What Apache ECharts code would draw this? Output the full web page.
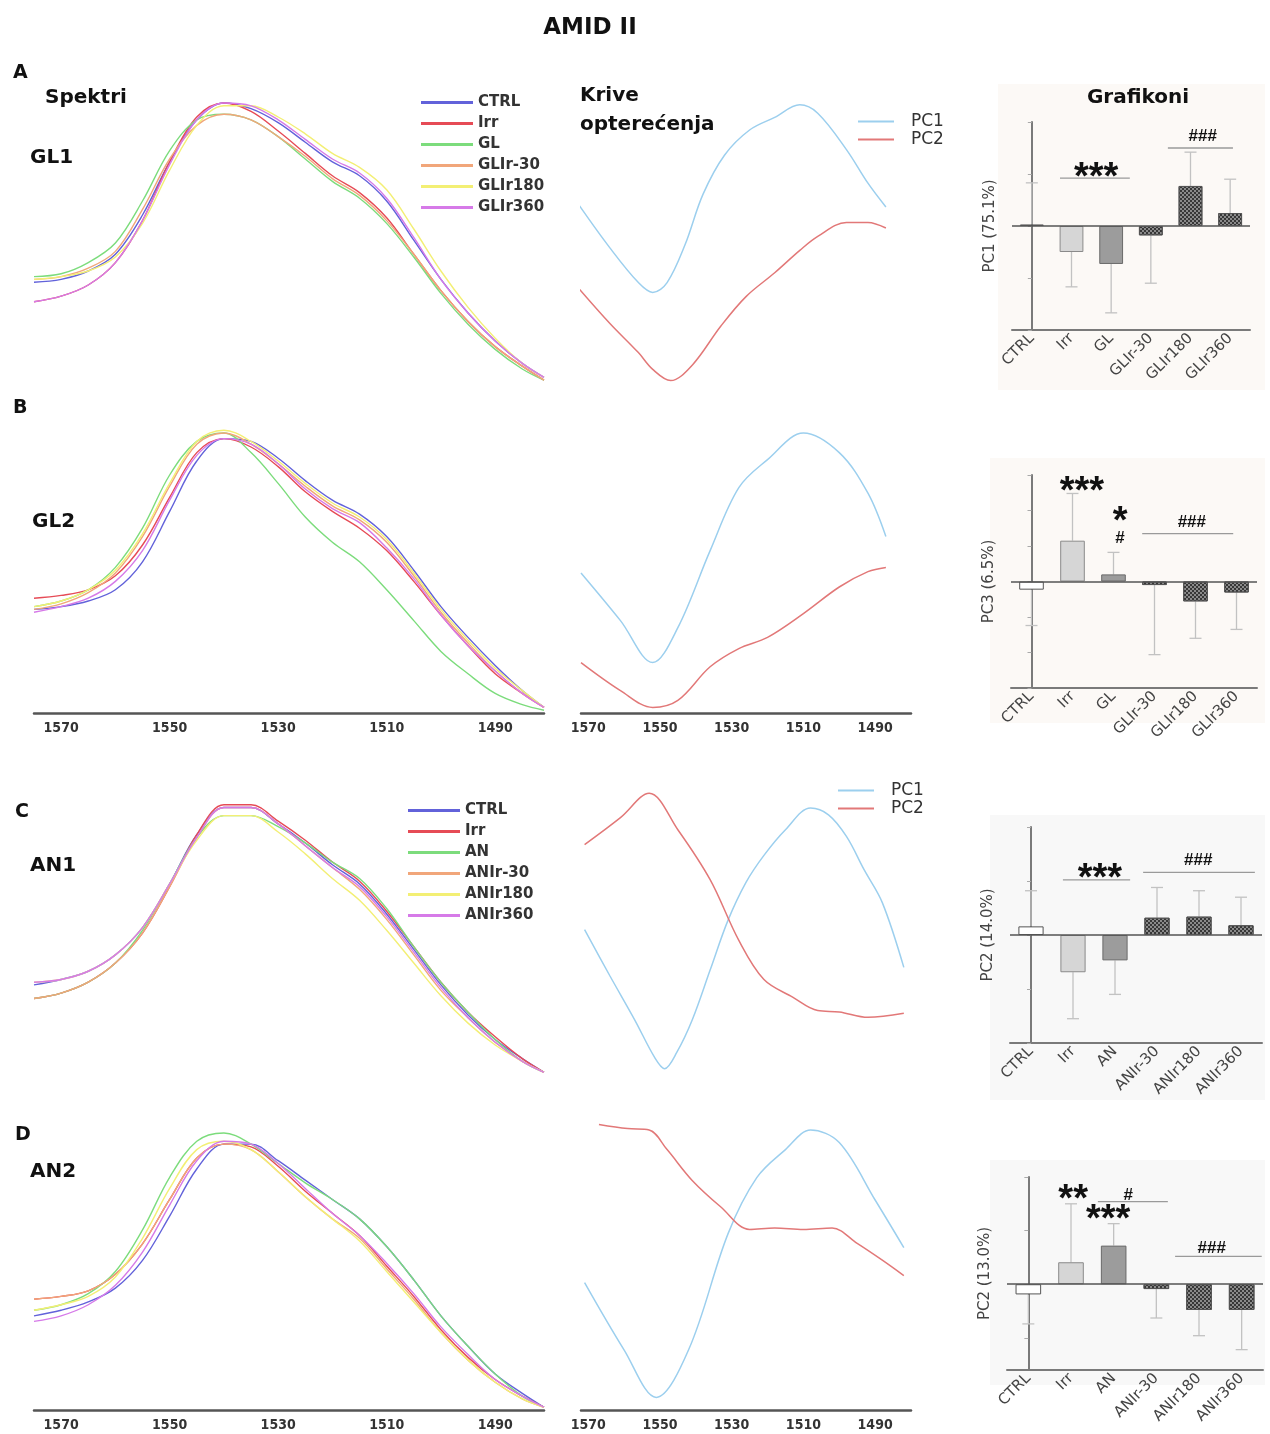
<!DOCTYPE html>
<html><head><meta charset="utf-8">
<script src="https://cdn.jsdelivr.net/npm/echarts@6/dist/echarts.min.js"></script>
<style>html,body{margin:0;padding:0;background:#fff}#c{width:1270px;height:1434px}</style>
</head><body><div id="c"></div>
<script>
// ---------------- DATA ----------------
const specX = [1575,1570,1565,1560,1555,1550,1545,1540,1535,1530,1525,1520,1515,1510,1505,1500,1495,1490,1485,1481];
const namesGL = ['CTRL','Irr','GL','GLIr-30','GLIr180','GLIr360'];
const namesAN = ['CTRL','Irr','AN','ANIr-30','ANIr180','ANIr360'];
const specTicks = [1570,1550,1530,1510,1490];

// Row A (GL1)
const spA_CTRL    = [0.36,0.37,0.40,0.46,0.60,0.79,0.94,1.00,0.98,0.93,0.86,0.79,0.74,0.65,0.51,0.37,0.25,0.15,0.07,0.02];
const spA_Irr     = [0.29,0.31,0.35,0.43,0.58,0.79,0.95,1.00,0.97,0.90,0.82,0.74,0.68,0.59,0.46,0.33,0.22,0.13,0.06,0.01];
const spA_GL      = [0.38,0.39,0.43,0.50,0.65,0.83,0.94,0.96,0.94,0.88,0.80,0.72,0.66,0.57,0.45,0.32,0.21,0.12,0.05,0.01];
const spA_GLIr30  = [0.37,0.38,0.41,0.47,0.62,0.80,0.92,0.96,0.94,0.88,0.81,0.73,0.67,0.58,0.46,0.33,0.22,0.13,0.06,0.01];
const spA_GLIr180 = [0.37,0.38,0.40,0.45,0.57,0.76,0.92,0.99,0.99,0.95,0.89,0.82,0.77,0.69,0.55,0.40,0.27,0.16,0.07,0.02];
const spA_GLIr360 = [0.29,0.31,0.35,0.43,0.58,0.78,0.94,1.00,0.99,0.94,0.87,0.80,0.75,0.66,0.52,0.37,0.25,0.15,0.07,0.02];
// Row B (GL2)
const spB_CTRL    = [0.37,0.38,0.40,0.44,0.54,0.72,0.90,0.98,0.97,0.91,0.83,0.76,0.71,0.63,0.51,0.38,0.27,0.17,0.08,0.02];
const spB_Irr     = [0.41,0.42,0.44,0.49,0.60,0.77,0.93,0.98,0.95,0.88,0.79,0.72,0.66,0.58,0.47,0.35,0.24,0.14,0.07,0.02];
const spB_GL      = [0.38,0.40,0.44,0.52,0.66,0.85,0.97,1.00,0.93,0.82,0.70,0.61,0.54,0.44,0.33,0.22,0.14,0.07,0.03,0.01];
const spB_GLIr30  = [0.37,0.39,0.43,0.50,0.63,0.81,0.96,1.00,0.96,0.89,0.81,0.74,0.69,0.61,0.49,0.36,0.25,0.15,0.07,0.02];
const spB_GLIr180 = [0.38,0.40,0.44,0.51,0.64,0.82,0.97,1.01,0.97,0.90,0.82,0.75,0.70,0.62,0.50,0.37,0.26,0.16,0.08,0.02];
const spB_GLIr360 = [0.36,0.38,0.41,0.47,0.58,0.76,0.92,0.98,0.96,0.89,0.80,0.73,0.68,0.59,0.48,0.35,0.24,0.15,0.07,0.02];
// Row C (AN1)
const spC_CTRL    = [0.33,0.35,0.38,0.44,0.54,0.70,0.88,0.98,0.98,0.92,0.85,0.77,0.70,0.59,0.46,0.33,0.22,0.13,0.06,0.01];
const spC_Irr     = [0.28,0.30,0.34,0.41,0.52,0.69,0.88,0.99,0.99,0.93,0.86,0.78,0.71,0.60,0.47,0.34,0.23,0.14,0.06,0.01];
const spC_AN      = [0.28,0.30,0.34,0.41,0.53,0.70,0.87,0.95,0.95,0.91,0.85,0.78,0.72,0.61,0.47,0.34,0.23,0.13,0.05,0.01];
const spC_ANIr30  = [0.28,0.30,0.34,0.41,0.52,0.69,0.87,0.98,0.98,0.92,0.84,0.76,0.68,0.57,0.44,0.31,0.21,0.12,0.05,0.01];
const spC_ANIr180 = [0.34,0.35,0.38,0.44,0.54,0.70,0.86,0.95,0.95,0.89,0.81,0.72,0.64,0.53,0.41,0.29,0.19,0.11,0.05,0.01];
const spC_ANIr360 = [0.34,0.35,0.38,0.44,0.54,0.70,0.87,0.98,0.98,0.92,0.84,0.76,0.69,0.58,0.45,0.32,0.21,0.12,0.05,0.01];
// Row D (AN2)
const spD_CTRL    = [0.34,0.36,0.39,0.44,0.54,0.70,0.87,0.96,0.96,0.90,0.83,0.76,0.69,0.59,0.47,0.34,0.23,0.13,0.06,0.01];
const spD_Irr     = [0.40,0.41,0.43,0.49,0.60,0.76,0.91,0.96,0.95,0.88,0.79,0.71,0.63,0.52,0.41,0.29,0.19,0.11,0.05,0.01];
const spD_AN      = [0.36,0.38,0.42,0.50,0.65,0.84,0.97,1.00,0.96,0.89,0.82,0.76,0.69,0.59,0.47,0.34,0.23,0.13,0.05,0.01];
const spD_ANIr30  = [0.40,0.41,0.43,0.49,0.60,0.76,0.91,0.96,0.94,0.86,0.77,0.69,0.62,0.51,0.40,0.28,0.18,0.10,0.04,0.01];
const spD_ANIr180 = [0.36,0.38,0.41,0.48,0.62,0.80,0.94,0.97,0.94,0.86,0.77,0.69,0.61,0.50,0.39,0.28,0.18,0.10,0.04,0.01];
const spD_ANIr360 = [0.32,0.34,0.38,0.45,0.57,0.74,0.90,0.97,0.96,0.89,0.80,0.71,0.63,0.53,0.42,0.30,0.20,0.11,0.05,0.01];

// Loadings
const ldA_x1  = [1573,1564,1556,1552,1548,1543,1538,1532,1525,1518,1511,1506,1498,1492,1487];
const ldA_pc1 = [0.28,-0.04,-0.29,-0.36,-0.29,-0.02,0.34,0.62,0.80,0.89,0.98,0.92,0.66,0.42,0.25];
const ldA_x2  = [1573,1564,1556,1552,1547,1541,1533,1526,1518,1511,1506,1498,1492,1487];
const ldA_pc2 = [-0.32,-0.58,-0.79,-0.91,-0.99,-0.88,-0.60,-0.39,-0.22,-0.06,0.04,0.14,0.14,0.10];
const ldB_x   = [1572,1561,1552,1545,1536,1528,1520,1510,1500,1492,1487];
const ldB_pc1 = [0.00,-0.34,-0.64,-0.39,0.16,0.61,0.81,1.00,0.86,0.57,0.26];
const ldB_pc2 = [-0.64,-0.84,-0.96,-0.91,-0.67,-0.54,-0.46,-0.29,-0.10,0.01,0.04];
const ldC_x1  = [1571,1564,1557,1551.4,1548.7,1545.3,1541,1536,1531,1526,1521,1515,1508,1503,1498,1493,1488,1482];
const ldC_pc1 = [0.04,-0.30,-0.63,-0.91,-0.99,-0.87,-0.63,-0.26,0.11,0.39,0.59,0.78,0.94,0.89,0.73,0.48,0.24,-0.24];
const ldC_x2  = [1571,1561,1553,1545,1536,1528,1521,1513,1506,1500,1492,1482];
const ldC_pc2 = [0.67,0.87,1.05,0.78,0.41,-0.04,-0.33,-0.46,-0.56,-0.57,-0.61,-0.58];
const ldD_x1  = [1571,1560,1551,1542,1531,1523,1515,1508,1500,1490,1482];
const ldD_pc1 = [-0.09,-0.57,-0.91,-0.57,0.26,0.66,0.86,1.00,0.91,0.50,0.16];
const ldD_x2  = [1567,1559,1553,1548,1541,1533,1525,1518,1510,1502,1495,1488,1482];
const ldD_pc2 = [1.04,1.01,1.00,0.86,0.64,0.45,0.29,0.30,0.29,0.30,0.19,0.07,-0.04];

// Bar charts (mean and whisker end)
const barA = [0.03,-0.50,-0.73,-0.18,0.77,0.25];
const endA = [0.83,-1.17,-1.67,-1.10,1.42,0.90];
const barB = [-0.23,1.15,0.20,-0.10,-0.56,-0.31];
const endB = [-1.24,2.48,0.82,-2.06,-1.60,-1.35];
const barC = [0.16,-0.69,-0.47,0.32,0.34,0.18];
const endC = [0.82,-1.55,-1.10,0.88,0.82,0.70];
const barD = [-0.19,0.41,0.72,-0.09,-0.48,-0.48];
const endD = [-0.74,1.50,1.13,-0.63,-0.96,-1.22];

// significance annotations: lines [x0,x1,y], texts [x,y,text]
const sigLineA = [[0.71,2.47,0.92],[3.43,5.07,1.5]];
const sigTextA = [[1.62,1.08,'***'],[4.31,1.73,'###']];
const sigLineB = [[2.7,4.92,1.35]];
const sigTextB = [[1.23,2.76,'***'],[2.16,1.92,'*'],[2.16,1.21,'#'],[3.91,1.66,'###']];
const sigLineC = [[0.76,2.36,1.02],[2.67,5.33,1.16]];
const sigTextC = [[1.64,1.2,'***'],[3.98,1.38,'###']];
const sigLineD = [[1.63,3.27,1.54],[3.44,5.47,0.52]];
const sigTextD = [[1.05,1.72,'**'],[2.34,1.65,'#'],[1.87,1.35,'***'],[4.3,0.67,'###']];

// ---------------- STYLE ----------------
const specColors = ['#6262da','#e64b56','#7cdc7c','#f1a67a','#f3ef74','#d67ae8'];
const pcColors = ['#9ccfee','#e27878'];
const HEAD = "'DejaVu Sans', sans-serif";
const NARROW = "'DejaVu Sans Condensed','Liberation Sans Narrow','Liberation Sans',sans-serif";

const grids=[], xAxes=[], yAxes=[], series=[], legends=[];
function addGrid(g){ grids.push(g); return grids.length-1; }

const specRows = [
  {top:103, h:280, names:namesGL, data:[spA_CTRL,spA_Irr,spA_GL,spA_GLIr30,spA_GLIr180,spA_GLIr360], axis:false},
  {top:433, h:280, names:namesGL, data:[spB_CTRL,spB_Irr,spB_GL,spB_GLIr30,spB_GLIr180,spB_GLIr360], axis:true},
  {top:802, h:273, names:namesAN, data:[spC_CTRL,spC_Irr,spC_AN,spC_ANIr30,spC_ANIr180,spC_ANIr360], axis:false},
  {top:1133,h:277, names:namesAN, data:[spD_CTRL,spD_Irr,spD_AN,spD_ANIr30,spD_ANIr180,spD_ANIr360], axis:true}
];
const ldRows = [
  {top:102, h:280, s:[[ldA_x1,ldA_pc1],[ldA_x2,ldA_pc2]], axis:false},
  {top:433, h:280, s:[[ldB_x,ldB_pc1],[ldB_x,ldB_pc2]], axis:true},
  {top:800, h:270, s:[[ldC_x1,ldC_pc1],[ldC_x2,ldC_pc2]], axis:false},
  {top:1130,h:280, s:[[ldD_x1,ldD_pc1],[ldD_x2,ldD_pc2]], axis:true}
];
const barRows = [
  {left:1012, top:122, width:238, height:208, min:-2, max:2, ticks:[-2,-1,0,1,2], name:'PC1 (75.1%)', cats:namesGL, vals:barA, ends:endA, lines:sigLineA, texts:sigTextA},
  {left:1011, top:475, width:246, height:213, min:-3, max:3, ticks:[-3,-2,-1,0,1,2,3], name:'PC3 (6.5%)', cats:namesGL, vals:barB, ends:endB, lines:sigLineB, texts:sigTextB},
  {left:1010, top:827, width:252, height:216, min:-2, max:2, ticks:[-2,-1,0,1,2], name:'PC2 (14.0%)', cats:namesAN, vals:barC, ends:endC, lines:sigLineC, texts:sigTextC},
  {left:1007, top:1177, width:256, height:193, min:-1.6, max:2, ticks:[-1,0,1,2], name:'PC2 (13.0%)', cats:namesAN, vals:barD, ends:endD, lines:sigLineD, texts:sigTextD}
];

const axisLblStyle = {customValues: specTicks, formatter: v => String(v), fontWeight:'bold', fontSize:14, fontFamily:NARROW, color:'#333', margin:8};

specRows.forEach(r=>{
  const gi = addGrid({left:34, top:r.top, width:510, height:r.h});
  const xi = xAxes.length;
  xAxes.push({gridIndex:gi, type:'value', min:1481, max:1575, inverse:true, show:r.axis,
    axisLine:{show:true, onZero:false, lineStyle:{color:'#555', width:2.5}}, axisTick:{show:false},
    splitLine:{show:false}, axisLabel:axisLblStyle});
  const yi = yAxes.length;
  yAxes.push({gridIndex:gi, type:'value', min:0, max:1, show:false});
  r.data.forEach((arr,k)=>{
    series.push({type:'line', name:r.names[k], xAxisIndex:xi, yAxisIndex:yi, smooth:0.35, symbol:'none', clip:false,
      data: specX.map((x,i)=>[x,arr[i]]), lineStyle:{width:1.4, color:specColors[k]}, itemStyle:{color:specColors[k]}});
  });
});

ldRows.forEach(r=>{
  const gi = addGrid({left:581, top:r.top, width:330, height:r.h});
  const xi = xAxes.length;
  xAxes.push({gridIndex:gi, type:'value', min:1480, max:1572, inverse:true, show:r.axis,
    axisLine:{show:true, onZero:false, lineStyle:{color:'#555', width:2.5}}, axisTick:{show:false},
    splitLine:{show:false}, axisLabel:axisLblStyle});
  const yi = yAxes.length;
  yAxes.push({gridIndex:gi, type:'value', min:-1, max:1, show:false});
  r.s.forEach((pair,k)=>{
    series.push({type:'line', name:k===0?'PC1':'PC2', xAxisIndex:xi, yAxisIndex:yi, smooth:0.35, symbol:'none', clip:false,
      data: pair[0].map((x,i)=>[x,pair[1][i]]), lineStyle:{width:1.5, color:pcColors[k]}, itemStyle:{color:pcColors[k]}});
  });
});

const barFill   = ['#ffffff','#d6d6d6','#9c9c9c','#8a8a8a','#8a8a8a','#8a8a8a'];
const barBorder = ['#555555','#8a8a8a','#6a6a6a','#555555','#555555','#555555'];
const checker = {symbol:'rect', symbolSize:1, color:'rgba(40,40,40,0.85)', dashArrayX:[[2,2],[0,2,2,0]], dashArrayY:[2,0]};

barRows.forEach(r=>{
  const gi = addGrid({left:r.left, top:r.top, width:r.width, height:r.height});
  const xc = xAxes.length;
  xAxes.push({gridIndex:gi, type:'category', data:r.cats,
    axisLine:{onZero:false, lineStyle:{color:'#7a7a7a', width:2}}, axisTick:{show:false},
    axisLabel:{rotate:45, interval:0, fontSize:15, color:'#444', fontFamily:HEAD, margin:6}});
  const xv = xAxes.length;
  xAxes.push({gridIndex:gi, type:'value', min:-0.5, max:5.5, show:false});
  const yi = yAxes.length;
  yAxes.push({gridIndex:gi, type:'value', min:r.min, max:r.max, name:r.name, nameLocation:'middle', nameGap:14,
    nameTextStyle:{fontSize:15, color:'#444', fontFamily:HEAD},
    axisLine:{show:true, lineStyle:{color:'#7a7a7a', width:2}},
    axisTick:{show:true, length:4, customValues:r.ticks, lineStyle:{color:'#aaa'}},
    axisLabel:{show:false}, splitLine:{show:false}});
  series.push({type:'bar', xAxisIndex:xc, yAxisIndex:yi, barWidth:'60%', z:3,
    data:r.vals.map((v,i)=>({value:v, itemStyle:{color:barFill[i], borderColor:barBorder[i], borderWidth:1,
      decal: i>=3 ? checker : null}})),
    markLine:{silent:true, symbol:['none','none'], label:{show:false}, lineStyle:{color:'#555', width:1.5, type:'solid'}, data:[{yAxis:0}]}
  });
  series.push({type:'custom', xAxisIndex:xc, yAxisIndex:yi, z:2,
    data:r.vals.map((v,i)=>[i,v,r.ends[i]]),
    renderItem:(p,api)=>{
      const a = api.coord([api.value(0), api.value(1)]);
      const b = api.coord([api.value(0), api.value(2)]);
      const st = {stroke:'#c2c2c2', lineWidth:1.3};
      return {type:'group', children:[
        {type:'line', shape:{x1:a[0],y1:a[1],x2:b[0],y2:b[1]}, style:st},
        {type:'line', shape:{x1:b[0]-6,y1:b[1],x2:b[0]+6,y2:b[1]}, style:st}]};
    }});
  series.push({type:'custom', xAxisIndex:xv, yAxisIndex:yi, z:4, encode:{x:[0,1], y:2},
    data:r.lines,
    renderItem:(p,api)=>{
      const a = api.coord([api.value(0), api.value(2)]);
      const b = api.coord([api.value(1), api.value(2)]);
      return {type:'line', shape:{x1:a[0],y1:a[1],x2:b[0],y2:b[1]}, style:{stroke:'#9a9a9a', lineWidth:1.3}};
    }});
  const texts = r.texts;
  series.push({type:'custom', xAxisIndex:xv, yAxisIndex:yi, z:5,
    data:texts.map(t=>[t[0],t[1]]),
    renderItem:(p,api)=>{
      const c = api.coord([api.value(0), api.value(1)]);
      const t = texts[p.dataIndex][2];
      const star = t.indexOf('*')>=0;
      const fs = star ? 38 : 17;
      return {type:'text', x:c[0], y:c[1] + (star ? 9 : 0),
        style:{text:t, fill:'#111', font:`bold ${fs}px 'Liberation Sans', Arial, sans-serif`,
          align:'center', verticalAlign:'middle', textAlign:'center', textVerticalAlign:'middle'}};
    }});
});

// Legends
const legText = {fontFamily:HEAD, fontWeight:'bold', fontSize:15, color:'#333'};
legends.push({left:416, top:90, orient:'vertical', data:namesGL, icon:'rect', itemWidth:52, itemHeight:3, itemGap:6, selectedMode:false, textStyle:legText});
legends.push({left:403, top:798, orient:'vertical', data:namesAN, icon:'rect', itemWidth:52, itemHeight:3, itemGap:6, selectedMode:false, textStyle:legText});
const pcLegText = {fontFamily:HEAD, fontSize:17, color:'#333', padding:[0,0,0,12]};
legends.push({left:853, top:108, orient:'vertical', data:['PC1','PC2'], icon:'rect', itemWidth:36, itemHeight:2, itemGap:1, selectedMode:false, textStyle:pcLegText});
legends.push({left:833, top:777, orient:'vertical', data:['PC1','PC2'], icon:'rect', itemWidth:36, itemHeight:2, itemGap:1, selectedMode:false, textStyle:pcLegText});

// Text labels
function txt(t,x,y,size,align){
  return {type:'text', x:x, y:y, z:10, style:{text:t, fill:'#111', font:`bold ${size}px ${HEAD}`,
    align:align||'left', verticalAlign:'middle', textAlign:align||'left', textVerticalAlign:'middle'}};
}
function bg(x,y,w,h,c){ return {type:'rect', z:-10, shape:{x:x,y:y,width:w,height:h}, style:{fill:c}}; }
const graphics = [
  bg(998,84,267,306,'#fcf9f6'), bg(990,458,275,265,'#fcf9f6'), bg(990,815,275,285,'#f8f8f8'), bg(990,1160,275,225,'#f8f8f8'),
  txt('AMID II',590,28,23,'center'),
  txt('A',13,73,19), txt('Spektri',45,98,20), txt('GL1',30,158,20),
  txt('B',13,408,19), txt('GL2',32,522,20),
  txt('C',15,812,19), txt('AN1',30,866,20),
  txt('D',15,1135,19), txt('AN2',30,1172,20),
  txt('Krive',580,96,20), txt('opterećenja',580,125,20),
  txt('Grafikoni',1138,98,20,'center')
];

const chart = echarts.init(document.getElementById('c'));
chart.setOption({
  animation:false,
  backgroundColor:'#ffffff',
  textStyle:{fontFamily:HEAD},
  grid:grids, xAxis:xAxes, yAxis:yAxes, series:series, legend:legends, graphic:graphics
});
</script>
</body></html>
